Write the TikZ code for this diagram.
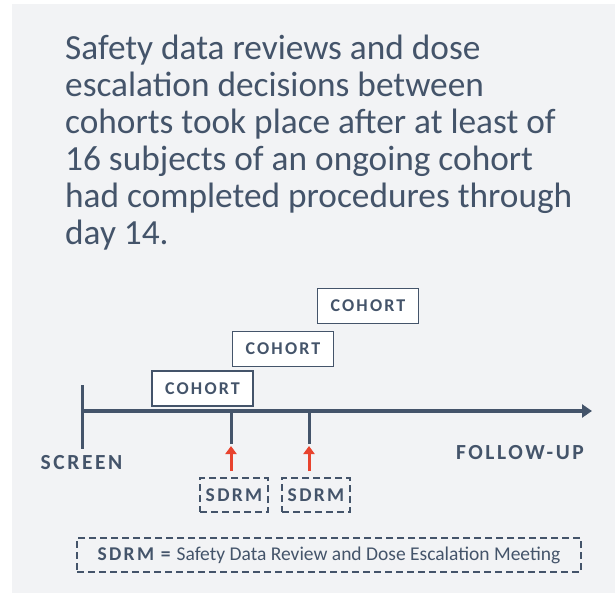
\documentclass[tikz,border=0pt]{standalone}
\usepackage{fontspec}
\setmainfont{Carlito}
\newfontfamily\spaced[LetterSpace=12]{Carlito}
\usetikzlibrary{arrows.meta}
\definecolor{ink}{HTML}{44546A}
\definecolor{bgc}{HTML}{F2F3F5}
\definecolor{redarr}{HTML}{E8432E}
\tikzset{
  cohortbox/.style={draw=ink, line width=1.6pt, fill=white, text=ink, minimum width=101pt, minimum height=35pt, inner sep=0pt, font=\fontsize{18}{20}\selectfont\spaced\bfseries},
  sdrmbox/.style={draw=ink, line width=2.4pt, dash pattern=on 7pt off 4pt, text=ink, minimum width=68pt, minimum height=34pt, inner sep=0pt, font=\fontsize{19.5}{22}\selectfont\spaced\bfseries},
  legendbox/.style={draw=ink, line width=2.4pt, dash pattern=on 7pt off 4pt, text=ink, minimum width=504pt, minimum height=34pt, inner sep=0pt, font=\fontsize{19.5}{22}\selectfont},
  axisline/.style={draw=ink, line width=4pt},
  tickline/.style={draw=ink, line width=3pt},
  redarrow/.style={draw=redarr, line width=3pt, -{Triangle[width=11pt,length=8pt]}},
  label/.style={text=ink, inner sep=0pt, font=\fontsize{21.5}{24}\selectfont\spaced\bfseries},
}
\begin{document}
\begin{tikzpicture}[x=1pt,y=-1pt]
\useasboundingbox (0,0) rectangle (615,593);
\fill[bgc] (12,4) rectangle (615,593);
\node[anchor=north west, align=left, text=ink, inner sep=0pt, font=\fontsize{35.3}{37}\selectfont] (title) at (65,34.5)
 {Safety data reviews and dose\\escalation decisions between\\cohorts took place after at least of\\16 subjects of an ongoing cohort\\had completed procedures through\\day 14.};
% timeline
\coordinate (ax0) at (81,411);
\coordinate (ax1) at (592,411);
\coordinate (sc0) at (82,385);
\coordinate (sc1) at (82,449);
\draw[axisline, -{Triangle[width=13pt,length=10pt]}] (ax0) -- (ax1);
\draw[tickline] (sc0) -- (sc1);
\coordinate (t1a) at (231,411);
\coordinate (t1b) at (231,444);
\coordinate (t2a) at (309,411);
\coordinate (t2b) at (309,444);
\draw[tickline] (t1a) -- (t1b);
\draw[tickline] (t2a) -- (t2b);
% cohorts
\node[cohortbox] (c1) at (202.5,388.5) {COHORT};
\node[cohortbox] (c2) at (283,349) {COHORT};
\node[cohortbox] (c3) at (368,306) {COHORT};
% labels
\node[label] (screen) at (81.5,463) {SCREEN};
\node[label] (follow) at (520,453) {FOLLOW-UP};
% SDRM
\node[sdrmbox] (s1) at (234,495) {SDRM};
\node[sdrmbox] (s2) at (316,495) {SDRM};
\coordinate (r1a) at (231,471);
\coordinate (r1b) at (231,446);
\coordinate (r2a) at (309,471);
\coordinate (r2b) at (309,446);
\draw[redarrow] (r1a) -- (r1b);
\draw[redarrow] (r2a) -- (r2b);
% legend
\node[legendbox] (legend) at (329,555) {{\spaced\bfseries SDRM =}\hspace{6pt}Safety Data Review and Dose Escalation Meeting};
\end{tikzpicture}
\end{document}
